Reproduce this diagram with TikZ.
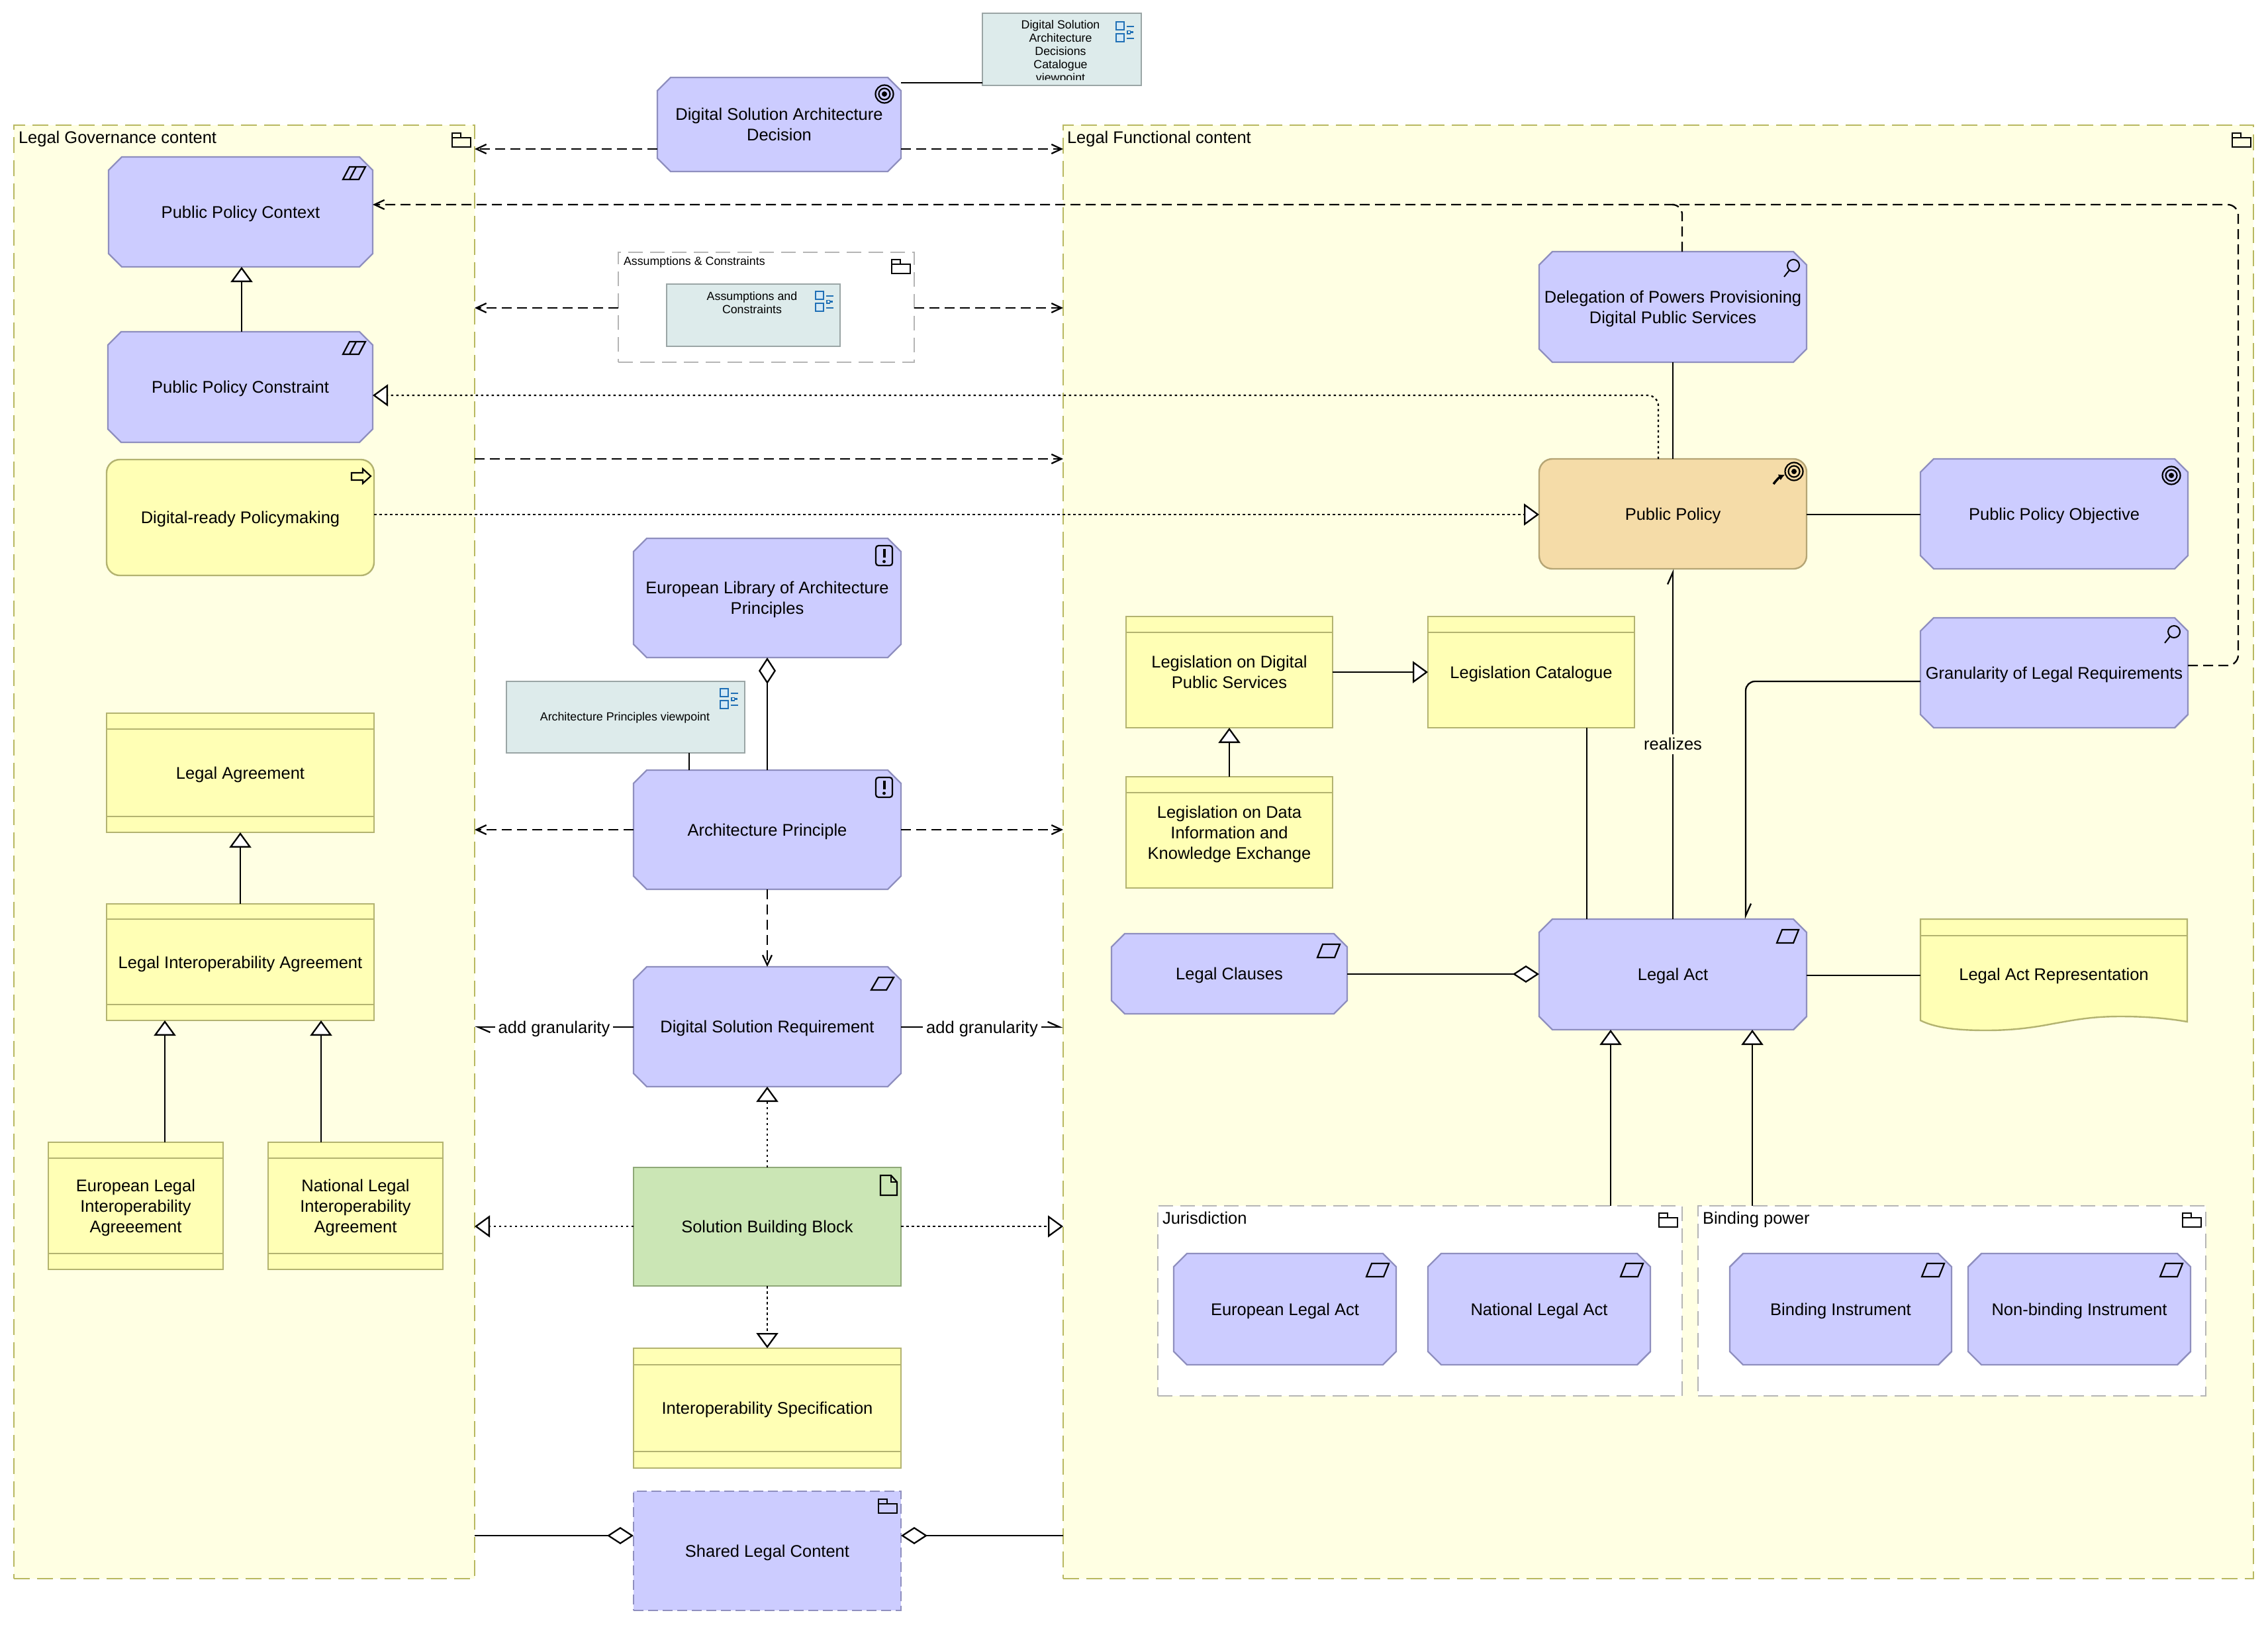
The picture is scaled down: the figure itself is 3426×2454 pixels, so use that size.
\documentclass[tikz,border=0pt]{standalone}
\usepackage{fontspec}
\setmainfont{Liberation Sans}
\usetikzlibrary{arrows.meta,calc}
\definecolor{grpfill}{HTML}{FFFFE3}
\definecolor{grpdraw}{HTML}{B8B860}
\definecolor{grayd}{HTML}{B5B5B5}
\definecolor{bluef}{HTML}{CCCCFF}
\definecolor{blued}{HTML}{8F8FBF}
\definecolor{yelf}{HTML}{FFFFB5}
\definecolor{yeld}{HTML}{B3B370}
\definecolor{orf}{HTML}{F5DCA8}
\definecolor{ord}{HTML}{B5A575}
\definecolor{grf}{HTML}{CBE6B5}
\definecolor{grd}{HTML}{8FA878}
\definecolor{vpf}{HTML}{DDEBEB}
\definecolor{vpd}{HTML}{9AA5A5}
\definecolor{icob}{HTML}{1F6FB5}
\definecolor{icol}{HTML}{D2E9F7}
\newcommand\txtM{\fontsize{25.5}{31}\selectfont}
\newcommand\txtS{\fontsize{17.8}{20}\selectfont}
\tikzset{
  base/.style={inner sep=0pt,outer sep=0pt,font=\txtM,line width=2.4pt},
  grpbox/.style={base,fill=grpfill,draw=grpdraw,dash pattern=on 24pt off 11pt},
  grybox/.style={base,fill=white,draw=grayd,dash pattern=on 22pt off 11pt},
  octs/.style={line width=2.4pt,fill=bluef,draw=blued,line join=miter},
  octd/.style={base,fill=bluef,draw=blued,dash pattern=on 15pt off 7pt},
  ylw/.style={base,fill=yelf,draw=yeld},
  ylr/.style={base,fill=yelf,draw=yeld,rounded corners=20pt},
  orr/.style={base,fill=orf,draw=ord,rounded corners=20pt},
  grn/.style={base,fill=grf,draw=grd},
  vpb/.style={base,fill=vpf,draw=vpd},
  txs/.style={inner sep=0pt,outer sep=0pt,align=center,font=\txtS},
  txm/.style={inner sep=0pt,outer sep=0pt,align=center,font=\txtM,text height=20pt,text depth=4pt},
  txl/.style={inner sep=0pt,outer sep=0pt,align=center,font=\txtM,text height=21pt,text depth=3pt},
  hdr/.style={line width=2.2pt,draw=yeld},
  con/.style={line width=2.3pt,black},
  assoc/.style={con},
  dep/.style={con,dash pattern=on 15pt off 8pt,-{Straight Barb[length=15pt,width=14pt]}},
  depn/.style={con,dash pattern=on 15pt off 8pt},
  flow/.style={con,-{Straight Barb[left,length=18pt,width=16pt]}},
  gen/.style={con,-{Triangle[fill=white,length=23pt,width=33pt]}},
  reali/.style={con,dash pattern=on 3.5pt off 4.5pt,-{Triangle[fill=white,length=23pt,width=33pt]}},
  agg/.style={con,-{Diamond[fill=white,length=40pt,width=26pt]}},
  ico/.style={line width=2.2pt,black,line join=miter},
}
\newcommand\nbox[7]{%
  \pgfmathsetmacro\ncx{(#3+#5)/2}\pgfmathsetmacro\ncy{(#4+#6)/2}%
  \pgfmathsetmacro\nW{#5-#3}\pgfmathsetmacro\nH{#6-#4}%
  \node[#1,minimum width=\nW pt,minimum height=\nH pt] (#2) at (\ncx,\ncy) {\raisebox{-3pt}[\height][\depth]{\begin{tabular}{@{}c@{}}#7\end{tabular}}};}
\newcommand\obox[6]{%
  \draw[octs] (#2+20,#3) -- (#4-20,#3) -- (#4,#3+20) -- (#4,#5-20) -- (#4-20,#5) -- (#2+20,#5) -- (#2,#5-20) -- (#2,#3+20) -- cycle;
  \nbox{base}{#1}{#2}{#3}{#4}{#5}{#6}}
\newcommand\folderi[2]{%
  \draw[ico] (#1,#2+7) rectangle (#1+28,#2+21);
  \draw[ico] (#1,#2+7) -- (#1,#2) -- (#1+13,#2) -- (#1+13,#2+7);}
\newcommand\parai[4]{%
  \draw[ico] (#1,#4) -- (#1+8,#2) -- (#3,#2) -- (#3-8,#4) -- cycle;}
\newcommand\paraii[4]{%
  \draw[ico] (#1,#4) -- (#1+10,#2) -- (#3,#2) -- (#3-10,#4) -- cycle;
  \draw[ico] (#1+10,#4) -- (#1+20,#2);}
\newcommand\goali[2]{%
  \draw[ico] (#1,#2) circle[radius=13.5pt];
  \draw[ico] (#1,#2) circle[radius=8.5pt];
  \fill[black] (#1,#2) circle[radius=4pt];}
\newcommand\magni[2]{%
  \draw[line width=2pt,black] (#1,#2) circle[radius=9pt];
  \draw[line width=2pt,black] (#1-6,#2+7) -- (#1-14,#2+17);}
\newcommand\princ[2]{%
  \draw[ico,rounded corners=4pt] (#1,#2) rectangle (#1+25,#2+30);
  \draw[line width=4pt,black] (#1+12.5,#2+5) -- (#1+12.5,#2+18);
  \fill[black] (#1+12.5,#2+24) circle[radius=2.4pt];}
\newcommand\viewi[2]{%
  \draw[line width=2.4pt,draw=icob,fill=icol] (#1,#2) rectangle (#1+12,#2+12);
  \draw[line width=2.4pt,draw=icob,fill=icol] (#1,#2+18) rectangle (#1+12,#2+30);
  \draw[line width=2.2pt,icob] (#1+16,#2+7) -- (#1+27,#2+7);
  \draw[line width=2.2pt,icob] (#1+16,#2+25) -- (#1+27,#2+25);
  \draw[line width=1.8pt,icob] (#1+17,#2+13.5) rectangle (#1+21.5,#2+18);
  \draw[line width=2.2pt,icob] (#1+22,#2+15.5) -- (#1+26,#2+15.5);}
\begin{document}
\begin{tikzpicture}[x=1pt,y=-1pt]
\path[fill=white,use as bounding box] (0,0) rectangle (3426,2454);

% ---- containers
\nbox{grpbox}{gov}{21}{189}{717}{2384}{}
\nbox{grpbox}{fun}{1606}{189}{3404}{2384}{}
\node[txm,anchor=west] (govt) at (28,208) {Legal Governance content};
\node[txm,anchor=west] (funt) at (1612,208) {Legal Functional content};
\folderi{683}{201}
\folderi{3372}{201}

% ---- centre top
\nbox{vpb}{vpa}{1484}{20}{1724}{129}{}
\begin{scope}
\clip (1484,20) rectangle (1724,121);
\node[txs] (vpat) at (1602,78.5) {Digital Solution\\Architecture\\Decisions\\Catalogue\\viewpoint};
\end{scope}
\viewi{1686}{33}
\obox{dec}{993}{117}{1361}{259}{Digital Solution Architecture\\Decision}
\goali{1336}{142}

\nbox{grybox}{asg}{934}{381}{1381}{547}{}
\node[txs,anchor=west] (asgt) at (942,396) {Assumptions \& Constraints};
\folderi{1347}{392}
\nbox{vpb}{asv}{1007}{429}{1269}{523}{}
\node[txs] (asvt) at (1136,457) {Assumptions and\\Constraints};
\viewi{1232}{440}

% ---- left column
\obox{ctx}{164}{237}{563}{403}{Public Policy Context}
\paraii{518}{252}{552}{271}
\obox{cst}{163}{501}{563}{668}{Public Policy Constraint}
\paraii{518}{516}{552}{535}
\nbox{ylr}{drp}{161}{694}{565}{869}{Digital-ready Policymaking}
\draw[ico] (531,714) -- (548,714) -- (548,708) -- (560,719) -- (548,730) -- (548,725) -- (531,725) -- cycle;

\nbox{ylw}{lag}{161}{1077}{565}{1257}{Legal Agreement}
\draw[hdr] (lag.west |- 0,1101) -- (lag.east |- 0,1101);
\draw[hdr] (lag.west |- 0,1233) -- (lag.east |- 0,1233);
\nbox{ylw}{lia}{161}{1365}{565}{1541}{Legal Interoperability Agreement}
\draw[hdr] (lia.west |- 0,1388) -- (lia.east |- 0,1388);
\draw[hdr] (lia.west |- 0,1517) -- (lia.east |- 0,1517);
\nbox{ylw}{eua}{73}{1725}{337}{1917}{European Legal\\Interoperability\\Agreeement}
\draw[hdr] (eua.west |- 0,1749) -- (eua.east |- 0,1749);
\draw[hdr] (eua.west |- 0,1893) -- (eua.east |- 0,1893);
\nbox{ylw}{nla}{405}{1725}{669}{1917}{National Legal\\Interoperability\\Agreement}
\draw[hdr] (nla.west |- 0,1749) -- (nla.east |- 0,1749);
\draw[hdr] (nla.west |- 0,1893) -- (nla.east |- 0,1893);

% ---- middle column
\obox{lib}{957}{813}{1361}{993}{European Library of Architecture\\Principles}
\princ{1323}{824}
\nbox{vpb}{apv}{765}{1029}{1125}{1137}{}
\node[txs] (apvt) at (944,1084) {Architecture Principles viewpoint};
\viewi{1088}{1040}
\obox{apr}{957}{1163}{1361}{1343}{Architecture Principle}
\princ{1323}{1174}
\obox{dsr}{957}{1460}{1361}{1641}{Digital Solution Requirement}
\draw[ico] (1316,1495) -- (1327,1476) -- (1350,1476) -- (1339,1495) -- cycle;
\nbox{grn}{sbb}{957}{1763}{1361}{1942}{Solution Building Block}
\draw[ico] (1330,1775) -- (1346,1775) -- (1355,1785) -- (1355,1805) -- (1330,1805) -- cycle;
\draw[ico] (1346,1775) -- (1346,1785) -- (1355,1785);
\nbox{ylw}{isp}{957}{2036}{1361}{2217}{Interoperability Specification}
\draw[hdr] (isp.west |- 0,2061) -- (isp.east |- 0,2061);
\draw[hdr] (isp.west |- 0,2192) -- (isp.east |- 0,2192);
\nbox{octd}{shc}{957}{2252}{1361}{2432}{Shared Legal Content}
\folderi{1327}{2264}

% ---- right part
\obox{del}{2325}{380}{2729}{547}{Delegation of Powers Provisioning\\Digital Public Services}
\magni{2709}{401}
\nbox{orr}{ppo}{2325}{693}{2729}{859}{Public Policy}
\goali{2710}{712}
\draw[line width=3.5pt,black,-{Latex[length=9pt,width=10pt]}] (2679,731) to[bend left=15] (2696,717);
\obox{obj}{2901}{693}{3305}{859}{Public Policy Objective}
\goali{3280}{718}
\obox{gra}{2901}{933}{3305}{1099}{Granularity of Legal Requirements}
\magni{3284}{954}
\nbox{ylw}{ldg}{1701}{931}{2013}{1099}{Legislation on Digital\\Public Services}
\draw[hdr] (ldg.west |- 0,955) -- (ldg.east |- 0,955);
\nbox{ylw}{lca}{2157}{931}{2469}{1099}{Legislation Catalogue}
\draw[hdr] (lca.west |- 0,955) -- (lca.east |- 0,955);
\nbox{ylw}{ldt}{1701}{1173}{2013}{1341}{Legislation on Data\\Information and\\Knowledge Exchange}
\draw[hdr] (ldt.west |- 0,1197) -- (ldt.east |- 0,1197);
\obox{cla}{1679}{1410}{2035}{1531}{Legal Clauses}
\parai{1990}{1426}{2024}{1446}
\obox{act}{2325}{1388}{2729}{1555}{Legal Act}
\parai{2684}{1404}{2717}{1424}
\draw[line width=2.4pt,fill=yelf,draw=yeld] (2901,1388) -- (3304,1388) -- (3304,1543)
  .. controls (3270,1537) and (3235,1535) .. (3203,1535)
  .. controls (3160,1535) and (3135,1540) .. (3101,1546)
  .. controls (3065,1553) and (3035,1556) .. (3000,1556)
  .. controls (2960,1556) and (2925,1553) .. (2901,1541) -- cycle;
\draw[hdr] (2901,1413) -- (3304,1413);
\nbox{base}{rep}{2901}{1388}{3304}{1555}{Legal Act Representation}

\nbox{grybox}{jur}{1749}{1821}{2541}{2108}{}
\node[txm,anchor=west] (jurt) at (1756,1840) {Jurisdiction};
\folderi{2506}{1832}
\nbox{grybox}{bin}{2565}{1821}{3332}{2108}{}
\node[txm,anchor=west] (bint) at (2572,1840) {Binding power};
\folderi{3297}{1832}
\obox{eul}{1773}{1893}{2109}{2061}{European Legal Act}
\parai{2064}{1908}{2098}{1928}
\obox{nal}{2157}{1893}{2493}{2061}{National Legal Act}
\parai{2448}{1908}{2482}{1928}
\obox{bii}{2613}{1893}{2948}{2061}{Binding Instrument}
\parai{2903}{1908}{2937}{1928}
\obox{nbi}{2973}{1893}{3309}{2061}{Non-binding Instrument}
\parai{3263}{1908}{3297}{1928}

% ---- connectors: top centre
\draw[assoc] (dec.east |- 0,125) -- (vpa.west |- 0,125);
\draw[dep] (dec.west |- 0,225) -- (gov.east |- 0,225);
\draw[dep] (dec.east |- 0,225) -- (fun.west |- 0,225);
\draw[dep] (asg.west |- 0,465) -- (gov.east |- 0,465);
\draw[dep] (asg.east |- 0,465) -- (fun.west |- 0,465);
\draw[dep] (gov.east |- 0,693) -- (fun.west |- 0,693);
% ---- left column
\draw[gen] (cst.north -| 365,0) -- (ctx.south -| 365,0);
\draw[gen] (lia.north -| 363,0) -- (lag.south -| 363,0);
\draw[gen] (eua.north -| 249,0) -- (lia.south -| 249,0);
\draw[gen] (nla.north -| 485,0) -- (lia.south -| 485,0);
% ---- long connectors
\coordinate (gr1) at (3381,1005);
\coordinate (gr2) at (3381,309);
\coordinate (de1) at (2541,309);
\coordinate (de2) at (2526,309);
\draw[dep,rounded corners=16pt] (gra.east |- gr1) -- (gr1) -- (gr2) -- (ctx.east |- gr2);
\draw[depn,rounded corners=15pt] (del.north -| de1) -- (de1) -- (de2);
\coordinate (pd1) at (2505,597);
\draw[reali,rounded corners=16pt] (ppo.north -| pd1) -- (pd1) -- (cst.east |- pd1);
\draw[reali] (drp.east |- 0,777) -- (ppo.west |- 0,777);
\draw[assoc] (del.south -| 2527,0) -- (ppo.north -| 2527,0);
\draw[assoc] (ppo.east |- 0,777) -- (obj.west |- 0,777);
\draw[flow] (act.north -| 2527,0) -- node[txl,fill=grpfill,inner xsep=3pt,inner ysep=3pt] (lr) {realizes} (ppo.south -| 2527,0);
\coordinate (gl1) at (2637,1029);
\draw[flow,rounded corners=14pt] (gra.west |- gl1) -- (gl1) -- (act.north -| gl1);
\draw[assoc] (lca.south -| 2397,0) -- (act.north -| 2397,0);
\draw[gen] (ldg.east |- 0,1015) -- (lca.west |- 0,1015);
\draw[gen] (ldt.north -| 1857,0) -- (ldg.south -| 1857,0);
\draw[agg] (cla.east |- 0,1471) -- (act.west |- 0,1471);
\draw[assoc] (act.east |- 0,1473) -- (rep.west |- 0,1473);
\draw[gen] (jur.north -| 2433,0) -- (act.south -| 2433,0);
\draw[gen] (bin.north -| 2647,0) -- (act.south -| 2647,0);
% ---- middle
\draw[agg] (apr.north -| 1159,0) -- (lib.south -| 1159,0);
\draw[assoc] (apv.south -| 1041,0) -- (apr.north -| 1041,0);
\draw[dep] (apr.west |- 0,1253) -- (gov.east |- 0,1253);
\draw[dep] (apr.east |- 0,1253) -- (fun.west |- 0,1253);
\draw[dep] (apr.south -| 1159,0) -- (dsr.north -| 1159,0);
\draw[flow] (dsr.west |- 0,1551) -- node[txl,fill=white,inner xsep=5pt,inner ysep=0pt] (la) {add granularity} (gov.east |- 0,1551);
\draw[flow] (dsr.east |- 0,1551) -- node[txl,fill=white,inner xsep=5pt,inner ysep=0pt] (lb) {add granularity} (fun.west |- 0,1551);
\draw[reali] (sbb.north -| 1159,0) -- (dsr.south -| 1159,0);
\draw[reali] (sbb.west |- 0,1852) -- (gov.east |- 0,1852);
\draw[reali] (sbb.east |- 0,1852) -- (fun.west |- 0,1852);
\draw[reali] (sbb.south -| 1159,0) -- (isp.north -| 1159,0);
\draw[agg] (gov.east |- 0,2319) -- (shc.west |- 0,2319);
\draw[agg] (fun.west |- 0,2319) -- (shc.east |- 0,2319);
\end{tikzpicture}
\end{document}
